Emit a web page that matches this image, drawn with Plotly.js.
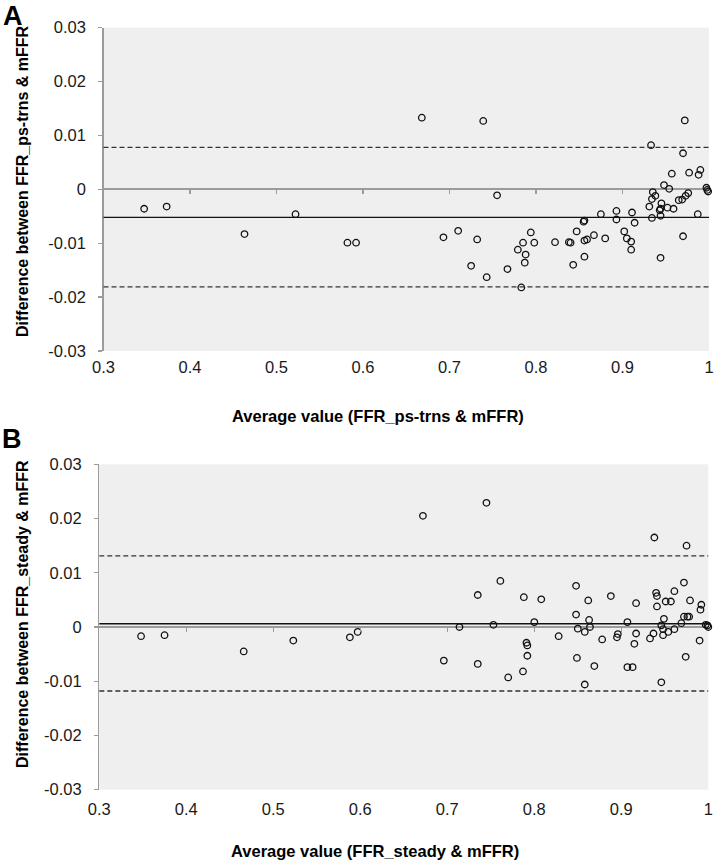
<!DOCTYPE html>
<html>
<head>
<meta charset="utf-8">
<script src="https://cdn.plot.ly/plotly-3.0.1.min.js"></script>
<style>html,body{margin:0;padding:0;background:#fff;}#chart{width:714px;height:863px;}</style>
</head>
<body>
<div id="chart"></div>
<script>
// ---------- Panel A: FFR_ps-trns vs mFFR ----------
const avgA = [0.347,0.373,0.463,0.522,0.582,0.592,
  0.668,0.739,0.755,0.693,0.710,0.732,0.725,0.743,0.767,0.783,0.779,0.785,0.788,0.787,0.794,0.798,
  0.822,0.838,0.840,0.843,0.847,0.855,0.856,0.856,0.859,0.856,0.867,0.875,0.880,0.893,0.893,0.902,
  0.905,0.910,0.910,0.911,0.914,0.933,0.931,0.934,0.935,0.934,0.938,0.944,0.943,0.944,0.945,0.944,
  0.948,0.952,0.954,0.957,0.959,0.965,0.969,0.972,0.970,0.970,0.973,0.976,0.977,0.987,0.988,0.990,
  0.997,0.998,0.999];
const diffA = [-0.0036,-0.0032,-0.0083,-0.0046,-0.0099,-0.0099,
  0.0133,0.0127,-0.0011,-0.0089,-0.0077,-0.0093,-0.0142,-0.0163,-0.0148,-0.0182,-0.0112,-0.0099,-0.0121,-0.0136,-0.0080,-0.0099,
  -0.0098,-0.0098,-0.0099,-0.0140,-0.0078,-0.0060,-0.0058,-0.0095,-0.0093,-0.0125,-0.0085,-0.0046,-0.0091,-0.0040,-0.0056,-0.0078,
  -0.0091,-0.0097,-0.0112,-0.0043,-0.0062,0.0082,-0.0032,-0.0053,-0.0005,-0.0018,-0.0012,-0.0127,-0.0039,-0.0049,-0.0026,-0.0036,
  0.0008,-0.0034,0.0001,0.0029,-0.0036,-0.0020,-0.0019,0.0128,0.0067,-0.0087,-0.0012,-0.0007,0.0031,-0.0046,0.0027,0.0036,
  0.0003,-0.0001,-0.0004];
const meanA = -0.0052;
const upperA = 0.0078;
const lowerA = -0.0181;

// ---------- Panel B: FFR_steady vs mFFR ----------
const avgB = [0.348,0.375,0.466,0.523,0.588,0.597,
  0.672,0.745,0.761,0.735,0.714,0.753,0.696,0.735,0.770,0.787,0.788,0.791,0.792,0.792,0.800,0.808,
  0.828,0.848,0.848,0.850,0.849,0.858,0.858,0.862,0.863,0.864,0.869,0.878,0.888,0.895,0.896,0.907,
  0.907,0.913,0.915,0.917,0.917,0.933,0.937,0.938,0.940,0.941,0.941,0.946,0.949,0.946,0.948,0.948,
  0.951,0.954,0.957,0.961,0.961,0.969,0.972,0.975,0.974,0.972,0.976,0.978,0.979,0.990,0.991,0.992,
  0.997,0.999,1.000];
const diffB = [-0.0017,-0.0015,-0.0045,-0.0025,-0.0019,-0.0009,
  0.0205,0.0229,0.0085,0.0059,0.0000,0.0004,-0.0062,-0.0068,-0.0093,-0.0082,0.0055,-0.0029,-0.0034,-0.0053,0.0009,0.0051,
  -0.0017,0.0076,0.0023,-0.0003,-0.0057,-0.0009,-0.0106,0.0049,0.0013,0.0000,-0.0072,-0.0023,0.0057,-0.0019,-0.0013,0.0009,
  -0.0074,-0.0074,-0.0031,-0.0012,0.0044,-0.0021,-0.0012,0.0165,0.0063,0.0057,0.0038,-0.0102,0.0015,0.0003,-0.0004,-0.0015,
  0.0047,-0.0009,0.0047,0.0066,-0.0004,0.0007,0.0082,0.0150,-0.0055,0.0019,0.0019,0.0019,0.0049,-0.0025,0.0032,0.0041,
  0.0004,0.0003,0.0000];
const meanB = 0.0006;
const upperB = 0.0131;
const lowerB = -0.0118;

// ---------- Axis ticks / labels ----------
const xRange = [0.3, 1.0];
const yRange = [-0.03, 0.03];
const yTickVals = [-0.03,-0.02,-0.01,0,0.01,0.02,0.03];
const yTickText = ['-0.03','-0.02','-0.01','0','0.01','0.02','0.03'];
const xTickVals = [0.3,0.4,0.5,0.6,0.7,0.8,0.9,1.0];
const xTickText = ['0.3','0.4','0.5','0.6','0.7','0.8','0.9','1'];

const titleYA = 'Difference between FFR_ps-trns & mFFR';
const titleXA = 'Average value (FFR_ps-trns & mFFR)';
const titleYB = 'Difference between FFR_steady & mFFR';
const titleXB = 'Average value (FFR_steady & mFFR)';

// ---------- Layout geometry (pixels) ----------
const W = 714, H = 863;
const FONT = 'Liberation Sans, Arial, sans-serif';
const AXC = '#9b9b9b';
const TICKFS = 16.5;
const pA = {l:103.5, r:709, t:27.7, b:351};
const pB = {l:99.3, r:708.3, t:464.3, b:789.7};
function xd(p){return [p.l/W, p.r/W];}
function yd(p){return [1-p.b/H, 1-p.t/H];}
function zeroPos(p){const d=yd(p); return d[0] + (0-yRange[0])/(yRange[1]-yRange[0])*(d[1]-d[0]);}

function scatterTrace(x,y,xa,ya){
  return {x:x,y:y,xaxis:xa,yaxis:ya,type:'scatter',mode:'markers',hoverinfo:'skip',cliponaxis:false,
    marker:{symbol:'circle-open',size:6.5,color:'#111',line:{width:1.3,color:'#111'}}};
}
const traces = [
  scatterTrace(avgA,diffA,'x','y'),
  scatterTrace(avgB,diffB,'x2','y2'),
  {x:[],y:[],xaxis:'x3',yaxis:'y',type:'scatter',mode:'markers',hoverinfo:'skip',showlegend:false},
  {x:[],y:[],xaxis:'x4',yaxis:'y2',type:'scatter',mode:'markers',hoverinfo:'skip',showlegend:false}
];

function hline(val,xa,ya,dash,color){
  return {type:'line',xref:xa+' domain',yref:ya,x0:0,x1:1,y0:val,y1:val,layer:'above',
    line:{color:color,width:1.3,dash:dash}};
}

function xMain(p, anchor, standoff){
  return {domain:xd(p),range:xRange,anchor:anchor,showgrid:false,zeroline:false,showline:false,
    ticks:'',tickvals:xTickVals,ticktext:xTickText,ticklabelstandoff:standoff,ticklabeloverflow:'allow',
    tickfont:{family:FONT,size:TICKFS,color:'#1a1a1a'},fixedrange:true};
}
function xZero(p, overlay){
  return {domain:xd(p),range:xRange,overlaying:overlay,anchor:'free',position:zeroPos(p),
    showgrid:false,zeroline:false,showline:false,showticklabels:false,
    ticks:'outside',ticklen:4,tickwidth:1.3,tickcolor:AXC,tickvals:xTickVals.slice(1,-1)};
}
function yAx(p, anchor){
  return {domain:yd(p),range:yRange,anchor:anchor,showgrid:false,
    zeroline:true,zerolinecolor:AXC,zerolinewidth:2,
    showline:true,linecolor:AXC,linewidth:1.3,
    ticks:'outside',ticklen:4,tickwidth:1.3,tickcolor:AXC,
    tickvals:yTickVals,ticktext:yTickText,ticklabelstandoff:9,
    tickfont:{family:FONT,size:TICKFS,color:'#1a1a1a'},fixedrange:true};
}
function ann(text,xpx,ypx,size,angle){
  return {text:'<b>'+text+'</b>',xref:'paper',yref:'paper',x:xpx/W,y:1-ypx/H,
    xanchor:'center',yanchor:'middle',showarrow:false,textangle:angle||0,
    font:{family:FONT,size:size,color:'#000'}};
}

const layout = {
  width:W,height:H,margin:{l:0,r:0,t:0,b:0},
  paper_bgcolor:'#ffffff',plot_bgcolor:'#efefef',showlegend:false,
  xaxis:xMain(pA,'y',4),
  yaxis:yAx(pA,'x'),
  xaxis2:xMain(pB,'y2',8),
  yaxis2:yAx(pB,'x2'),
  xaxis3:xZero(pA,'x'),
  xaxis4:xZero(pB,'x2'),
  shapes:[
    hline(upperA,'x','y','5px,3px','#333'),
    hline(lowerA,'x','y','5px,3px','#333'),
    hline(meanA,'x','y','solid','#111'),
    hline(upperB,'x2','y2','5px,3px','#333'),
    hline(lowerB,'x2','y2','5px,3px','#333'),
    hline(meanB,'x2','y2','solid','#111')
  ],
  annotations:[
    ann('A',13,16,27),
    ann('B',12,439,27),
    ann(titleYA,22,181,16,-90),
    ann(titleXA,378,416,16.5),
    ann(titleYB,22,614,16,-90),
    ann(titleXB,375,851,16.5)
  ]
};

Plotly.newPlot('chart',traces,layout,{staticPlot:true,displayModeBar:false});
</script>
</body>
</html>
